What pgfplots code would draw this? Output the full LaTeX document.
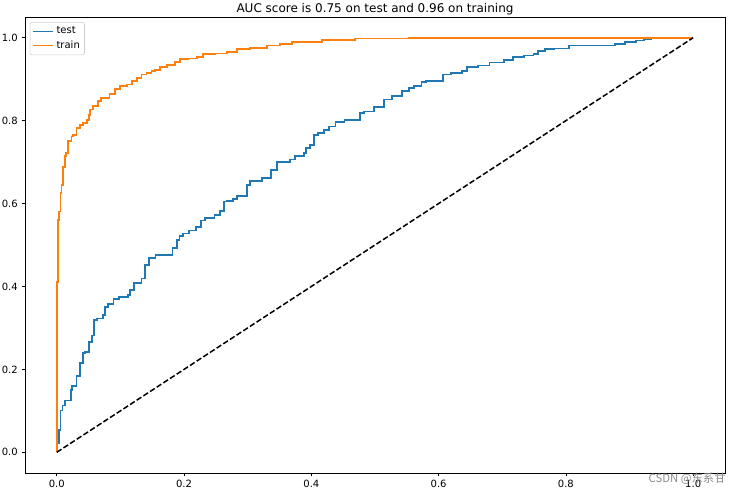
\documentclass[border=0pt]{standalone}
\usepackage{pgfplots}
\pgfplotsset{compat=1.18}
\usepackage{fontspec}
\setmainfont{DejaVu Sans}
\newfontfamily\cjk{Noto Sans CJK SC}
\definecolor{tabblue}{HTML}{1F77B4}
\definecolor{taborange}{HTML}{FF7F0E}
\begin{document}
\begin{tikzpicture}
\begin{axis}[
  scale only axis, width=525pt, height=342pt,
  xmin=-0.05, xmax=1.05, ymin=-0.05, ymax=1.05,
  clip=false,
  axis line style={line width=0.6pt, black},
  tick align=outside, tick pos=left,
  major tick length=2.6pt,
  every tick/.style={black, line width=0.6pt},
  xtick={0,0.2,0.4,0.6,0.8,1.0},
  ytick={0,0.2,0.4,0.6,0.8,1.0},
  /pgf/number format/assume math mode=true,
  xticklabel style={/pgf/number format/.cd, fixed, fixed zerofill, precision=1, /tikz/.cd, font=\fontsize{7.5}{9}\selectfont, inner sep=2.6pt},
  yticklabel style={/pgf/number format/.cd, fixed, fixed zerofill, precision=1, /tikz/.cd, font=\fontsize{7.5}{9}\selectfont, inner sep=2.6pt},
  every axis title shift=0pt,
  title={AUC score is 0.75 on test and 0.96 on training},
  title style={font=\fontsize{9}{11}\selectfont, at={(0.5,1)}, anchor=base, inner sep=0pt, yshift=3pt},
  legend style={at={(0.007,0.989)}, anchor=north west, draw=black!20, fill=white, rounded corners=1.5pt,
    font=\fontsize{7.5}{9}\selectfont, inner sep=1.5pt, row sep=-0.5pt},
  legend cell align=left,
  legend image code/.code={\draw[#1] (0pt,0pt) -- (15pt,0pt);},
  legend image post style={line width=1.3pt},
]
\addplot[tabblue, line width=1.3pt, const plot] coordinates {
(0,0) (0.001,0.021) (0.004,0.053) (0.006,0.101) (0.009,0.113) (0.013,0.125)
(0.022,0.150) (0.024,0.160) (0.031,0.184) (0.037,0.215) (0.041,0.239) (0.044,0.242)
(0.051,0.266) (0.055,0.282) (0.059,0.319) (0.063,0.323) (0.073,0.331) (0.076,0.351)
(0.080,0.357) (0.089,0.369) (0.098,0.375) (0.112,0.379) (0.115,0.391) (0.121,0.409)
(0.133,0.419) (0.139,0.452) (0.145,0.469) (0.155,0.476) (0.182,0.492) (0.189,0.512)
(0.193,0.522) (0.198,0.528) (0.208,0.535) (0.219,0.544) (0.227,0.559) (0.233,0.565)
(0.248,0.573) (0.257,0.582) (0.263,0.605) (0.267,0.607) (0.277,0.611) (0.283,0.619)
(0.299,0.645) (0.304,0.655) (0.322,0.661) (0.337,0.681) (0.346,0.701) (0.366,0.706)
(0.374,0.714) (0.388,0.722) (0.392,0.734) (0.398,0.742) (0.404,0.766) (0.411,0.770)
(0.420,0.778) (0.428,0.786) (0.438,0.796) (0.452,0.802) (0.476,0.819) (0.483,0.822)
(0.498,0.833) (0.514,0.851) (0.527,0.859) (0.543,0.871) (0.553,0.879) (0.561,0.883)
(0.573,0.893) (0.580,0.895) (0.607,0.911) (0.620,0.915) (0.637,0.919) (0.645,0.929)
(0.662,0.933) (0.680,0.940) (0.703,0.946) (0.717,0.953) (0.734,0.957) (0.749,0.961)
(0.756,0.968) (0.767,0.972) (0.782,0.974) (0.805,0.981) (0.877,0.985) (0.893,0.989)
(0.910,0.993) (0.923,0.996) (0.934,0.998) (0.944,1.0) (1,1)
};
\addlegendentry{test}
\addplot[taborange, line width=1.3pt, const plot] coordinates {
(0,0) (0,0.198) (0.0005,0.411) (0.002,0.472) (0.0024,0.560) (0.0036,0.581)
(0.006,0.625) (0.0074,0.645) (0.0099,0.689) (0.0126,0.714) (0.015,0.722) (0.018,0.750)
(0.023,0.762) (0.026,0.766) (0.031,0.782) (0.036,0.790) (0.041,0.794) (0.047,0.802)
(0.051,0.814) (0.052,0.827) (0.057,0.836) (0.065,0.847) (0.070,0.855) (0.083,0.865)
(0.091,0.877) (0.099,0.883) (0.110,0.887) (0.118,0.895) (0.126,0.903) (0.133,0.911)
(0.141,0.915) (0.149,0.919) (0.154,0.923) (0.162,0.930) (0.173,0.935) (0.186,0.941)
(0.194,0.948) (0.207,0.950) (0.220,0.954) (0.230,0.960) (0.249,0.962) (0.267,0.965)
(0.283,0.972) (0.304,0.975) (0.330,0.981) (0.351,0.985) (0.370,0.990) (0.417,0.994)
(0.469,0.998) (0.553,1.0) (1,1)
};
\addlegendentry{train}
\addplot[black, line width=1.125pt, dash pattern=on 4.16pt off 1.8pt, forget plot] coordinates {(0,0) (1,1)};
\node[text=black!45, font=\cjk\fontsize{8.5}{10}\selectfont, inner sep=0pt] at (rel axis cs:0.946,-0.012) {CSDN @东系甘};
\coordinate (bl) at (rel axis cs:-0.0357,-0.046);
\coordinate (tr) at (rel axis cs:1.02,1.0373);
\end{axis}
\pgfresetboundingbox
\path (bl) rectangle (tr);
\end{tikzpicture}
\end{document}
